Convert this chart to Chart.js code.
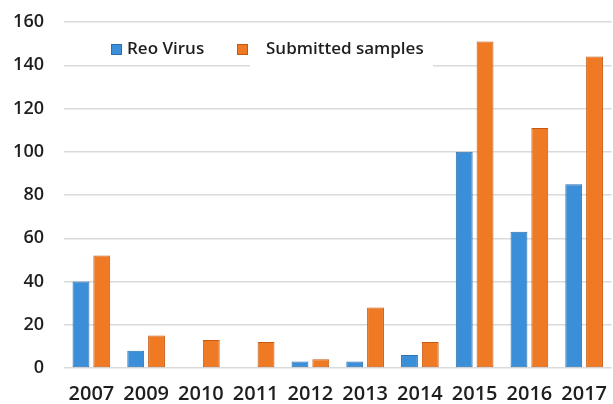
<!DOCTYPE html>
<html>
<head>
<meta charset="utf-8">
<script src="https://cdn.jsdelivr.net/npm/chart.js@4/dist/chart.umd.min.js"></script>
<style>
  html, body { margin: 0; padding: 0; background: #fff; }
  #wrap { width: 613px; height: 404px; }
</style>
</head>
<body>
<div id="wrap"><canvas id="c" width="613" height="404"></canvas></div>
<script>
const years = ["2007", "2009", "2010", "2011", "2012", "2013", "2014", "2015", "2016", "2017"];
const reoVirus = [40, 8, 0, 0, 3, 3, 6, 100, 63, 85];
const submittedSamples = [52, 15, 13, 12, 4, 28, 12, 151, 111, 144];
const yTicks = [0, 20, 40, 60, 80, 100, 120, 140, 160];

const FONT = "'Open Sans', 'DejaVu Sans', sans-serif";

const insideLegend = {
  id: 'insideLegend',
  afterDraw(chart) {
    const ctx = chart.ctx;
    ctx.save();
    ctx.fillStyle = '#ffffff';
    ctx.fillRect(250, 38, 183, 32);
    ctx.font = "600 17px " + FONT;
    ctx.textBaseline = 'middle';
    const items = [
      { x: 111, tx: 127 },
      { x: 237, tx: 266 }
    ];
    chart.data.datasets.forEach((ds, i) => {
      const it = items[i];
      ctx.fillStyle = ds.borderColor;
      ctx.fillRect(it.x, 44, 11, 11);
      ctx.fillStyle = ds.backgroundColor;
      ctx.fillRect(it.x + 1, 45, 9, 9);
      ctx.fillStyle = '#1e1e1e';
      ctx.textAlign = 'left';
      ctx.fillText(ds.label, it.tx, 49);
    });
    ctx.restore();
  }
};

new Chart(document.getElementById('c'), {
  type: 'bar',
  data: {
    labels: years,
    datasets: [
      {
        label: 'Reo Virus',
        data: reoVirus,
        backgroundColor: '#3a8fd8',
        borderColor: '#2a6fae',
        borderWidth: 1,
        borderSkipped: false,
        categoryPercentage: 0.76,
        barPercentage: 0.81
      },
      {
        label: 'Submitted samples',
        data: submittedSamples,
        backgroundColor: '#f07a24',
        borderColor: '#c45a12',
        borderWidth: 1,
        borderSkipped: false,
        categoryPercentage: 0.76,
        barPercentage: 0.81
      }
    ]
  },
  options: {
    responsive: false,
    animation: false,
    devicePixelRatio: 1,
    layout: { padding: { top: 22, right: 0, left: 0, bottom: 0 } },
    plugins: {
      legend: { display: false },
      tooltip: { enabled: false }
    },
    scales: {
      x: {
        grid: { display: false },
        border: { display: false },
        ticks: {
          color: '#1e1e1e',
          font: { family: FONT, size: 20, weight: '600' },
          padding: 6,
          maxRotation: 0,
          autoSkip: false
        },
        afterFit(scale) { scale.height = 36; }
      },
      y: {
        min: 0,
        max: 160,
        afterBuildTicks(scale) { scale.ticks = yTicks.map(v => ({ value: v })); },
        grid: { color: '#dadada', lineWidth: 1.5, drawTicks: false },
        border: { display: false },
        ticks: {
          color: '#1e1e1e',
          font: { family: FONT, size: 18, weight: '600' },
          padding: 20
        },
        afterFit(scale) {
          scale.width = 64;
          scale.paddingTop = 0;
          scale.paddingBottom = 0;
        }
      }
    }
  },
  plugins: [insideLegend]
});
</script>
</body>
</html>
